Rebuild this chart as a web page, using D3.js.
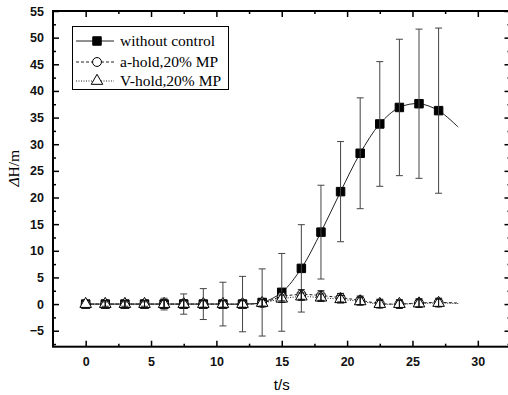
<!DOCTYPE html>
<html>
<head>
<meta charset="utf-8">
<script src="https://cdn.jsdelivr.net/npm/d3@7"></script>
<style>
  body { margin: 0; background: #fff; }
  svg { display: block; }
</style>
</head>
<body>
<div id="chart"></div>
<script>
// sample times (s)
var times = [0, 1.5, 3, 4.5, 6, 7.5, 9, 10.5, 12, 13.5, 15, 16.5, 18, 19.5, 21, 22.5, 24, 25.5, 27];
// ΔH values (m)
var withoutControl = [0, 0, 0, 0, 0, 0, 0, 0, 0, 0.3, 2.2, 6.7, 13.5, 21.1, 28.3, 33.8, 36.9, 37.6, 36.3];
var withoutErr     = [0, 0.4, 0.4, 0.4, 1.1, 1.9, 2.9, 4.1, 5.2, 6.3, 7.3, 8.2, 8.8, 9.4, 10.4, 11.7, 12.8, 14.0, 15.5];
var aHold    = [0, 0, 0, 0, 0, 0, 0, 0, 0, 0.2, 1.4, 1.8, 1.6, 1.2, 0.7, 0.1, 0, 0.2, 0.3];
var aHoldErr = [0, 0.7, 0.7, 0.7, 0.8, 0.8, 0.7, 0.7, 0.7, 0.7, 0.8, 0.9, 0.9, 0.8, 0.8, 0.8, 0.8, 0.8, 0.8];
var vHold    = [0, 0, 0, 0, 0, 0, 0, 0, 0, 0.2, 1.0, 1.4, 1.2, 0.9, 0.5, 0, 0, 0.1, 0.2];
var vHoldErr = [0, 0.6, 0.6, 0.6, 0.7, 0.6, 0.6, 0.6, 0.6, 0.6, 0.7, 0.7, 0.7, 0.7, 0.7, 0.7, 0.7, 0.7, 0.7];
// the fitted curves run a little past the last marker
var tailTime = 28.5;
var tailValues = [33.2, 0.2, 0.1];

var xTicks = [0, 5, 10, 15, 20, 25, 30];
var xMinor = [2.5, 7.5, 12.5, 17.5, 22.5, 27.5];
var yTicks = [-5, 0, 5, 10, 15, 20, 25, 30, 35, 40, 45, 50, 55];
var yMinor = [-7.5, -2.5, 2.5, 7.5, 12.5, 17.5, 22.5, 27.5, 32.5, 37.5, 42.5, 47.5, 52.5];
var legendLabels = ["without control", "a-hold,20% MP", "V-hold,20% MP"];

var W = 508, H = 395;
var pLeft = 53, pRight = 510.5, pTop = 11, pBottom = 346.7;

var svg = d3.select("#chart").append("svg")
    .attr("width", W).attr("height", H);

var x = d3.scaleLinear().domain([-2.5, 32.5]).range([pLeft, pRight]);
var y = d3.scaleLinear().domain([-8, 55]).range([pBottom, pTop]);

// ---- axes (ticks point inward on all four sides)
function styleAxis(g) {
    g.select(".domain").remove();
    g.selectAll(".tick line").attr("stroke", "#000").attr("stroke-width", 1.5);
}
var tickFont = "'Liberation Sans', Arial, sans-serif";
function styleLabels(g) {
    g.selectAll("text")
        .attr("font-family", tickFont).attr("font-size", 12.5)
        .attr("font-weight", "bold").attr("fill", "#111");
}

svg.append("g").attr("transform", "translate(0," + pBottom + ")")
    .call(d3.axisBottom(x).tickValues(xTicks).tickSize(-6).tickPadding(10).tickFormat(d3.format("d")))
    .call(styleAxis)
    .call(styleLabels);
svg.append("g").attr("transform", "translate(0," + pBottom + ")")
    .call(d3.axisBottom(x).tickValues(xMinor).tickSize(-3).tickFormat(""))
    .call(styleAxis);
svg.append("g").attr("transform", "translate(0," + pTop + ")")
    .call(d3.axisTop(x).tickValues(xTicks).tickSize(-6).tickFormat(""))
    .call(styleAxis);
svg.append("g").attr("transform", "translate(0," + pTop + ")")
    .call(d3.axisTop(x).tickValues(xMinor).tickSize(-3).tickFormat(""))
    .call(styleAxis);

svg.append("g").attr("transform", "translate(" + pLeft + ",0)")
    .call(d3.axisLeft(y).tickValues(yTicks).tickSize(-6).tickPadding(9).tickFormat(d3.format("d")))
    .call(styleAxis)
    .call(styleLabels);
svg.append("g").attr("transform", "translate(" + pLeft + ",0)")
    .call(d3.axisLeft(y).tickValues(yMinor).tickSize(-3).tickFormat(""))
    .call(styleAxis);
svg.append("g").attr("transform", "translate(" + pRight + ",0)")
    .call(d3.axisRight(y).tickValues(yTicks).tickSize(-6).tickFormat(""))
    .call(styleAxis);
svg.append("g").attr("transform", "translate(" + pRight + ",0)")
    .call(d3.axisRight(y).tickValues(yMinor).tickSize(-3).tickFormat(""))
    .call(styleAxis);

svg.append("rect")
    .attr("x", pLeft).attr("y", pTop)
    .attr("width", pRight - pLeft).attr("height", pBottom - pTop)
    .attr("fill", "none").attr("stroke", "#000").attr("stroke-width", 2);

// ---- axis titles
svg.append("text")
    .attr("x", x(15)).attr("y", 390)
    .attr("text-anchor", "middle")
    .attr("font-family", tickFont).attr("font-size", 15)
    .text("t/s");
svg.append("text")
    .attr("transform", "translate(19," + y(25.5) + ") rotate(-90)")
    .attr("text-anchor", "middle")
    .attr("font-family", "'Liberation Serif', 'Times New Roman', serif").attr("font-size", 15.5)
    .html("<tspan font-style='italic'>Δ</tspan>H/m");

// ---- series
var series = [
    { name: legendLabels[0], vals: withoutControl, err: withoutErr, tail: tailValues[0], dash: null, marker: "square" },
    { name: legendLabels[1], vals: aHold, err: aHoldErr, tail: tailValues[1], dash: "3,2", marker: "circle" },
    { name: legendLabels[2], vals: vHold, err: vHoldErr, tail: tailValues[2], dash: "1,1.5", marker: "triangle" }
];

var line = d3.line()
    .x(d => x(d[0])).y(d => y(d[1]))
    .curve(d3.curveCatmullRom.alpha(0.5));

var plot = svg.append("g");

series.forEach(function(s) {
    var pts = times.map((t, i) => [t, s.vals[i]]);
    pts.push([tailTime, s.tail]);
    plot.append("path")
        .datum(pts)
        .attr("d", line)
        .attr("fill", "none")
        .attr("stroke", "#222")
        .attr("stroke-width", 1)
        .attr("stroke-dasharray", s.dash);
});

var sym = {
    square: d3.symbol().type(d3.symbolSquare).size(72),
    circle: d3.symbol().type(d3.symbolCircle).size(62),
    triangle: d3.symbol().type(d3.symbolTriangle).size(58)
};

function drawMarker(g, type, cx, cy) {
    var filled = type === "square";
    g.append("path")
        .attr("d", sym[type]())
        .attr("transform", "translate(" + cx + "," + cy + ")")
        .attr("fill", filled ? "#000" : "#fff")
        .attr("stroke", "#000")
        .attr("stroke-width", 1);
}

function drawErrors(s, k) {
    var g = plot.append("g");
    times.forEach(function(t, i) {
        var e = s.err[i];
        if (!e) return;
        var cx = x(t), y1 = y(s.vals[i] + e), y2 = y(s.vals[i] - e);
        var col = k === 0 ? "#444" : "#111";
        g.append("line").attr("x1", cx).attr("x2", cx).attr("y1", y1).attr("y2", y2)
            .attr("stroke", col).attr("stroke-width", 1);
        g.append("line").attr("x1", cx - 3.5).attr("x2", cx + 3.5).attr("y1", y1).attr("y2", y1)
            .attr("stroke", col).attr("stroke-width", 1);
        g.append("line").attr("x1", cx - 3.5).attr("x2", cx + 3.5).attr("y1", y2).attr("y2", y2)
            .attr("stroke", col).attr("stroke-width", 1);
    });
}

// all markers first, then every error bar on top of them
series.forEach(function(s) {
    times.forEach(function(t, i) {
        drawMarker(plot, s.marker, x(t), y(s.vals[i]));
    });
});
series.forEach(drawErrors);

// ---- legend
var lg = svg.append("g");
lg.append("rect")
    .attr("x", 72.5).attr("y", 26.5).attr("width", 156).attr("height", 63)
    .attr("fill", "#fff").attr("stroke", "#000").attr("stroke-width", 1);
var rowY = [41, 62, 81];
series.forEach(function(s, i) {
    lg.append("line")
        .attr("x1", 76).attr("x2", 114).attr("y1", rowY[i]).attr("y2", rowY[i])
        .attr("stroke", "#222").attr("stroke-width", 1)
        .attr("stroke-dasharray", s.dash);
    drawMarker(lg, s.marker, 97, rowY[i]);
    lg.append("text")
        .attr("x", 120).attr("y", rowY[i] + 5)
        .attr("font-family", "'Liberation Serif', 'Times New Roman', serif")
        .attr("font-size", 15.5)
        .text(s.name);
});
</script>
</body>
</html>
